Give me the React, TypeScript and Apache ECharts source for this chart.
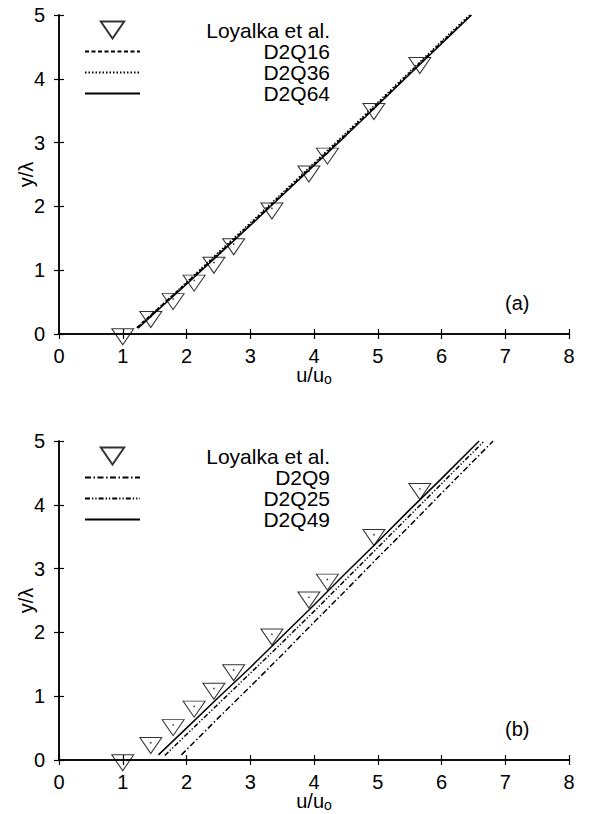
import React, { useEffect, useRef } from 'react';
import * as echarts from 'echarts';

// Loyalka et al. reference points (u/u_o, y/lambda)
const loyalkaU = [1.0, 1.44, 1.79, 2.12, 2.43, 2.74, 3.34, 3.92, 4.21, 4.94, 5.66];
const loyalkaY = [0.0, 0.27, 0.55, 0.84, 1.12, 1.41, 1.97, 2.55, 2.83, 3.53, 4.25];

// Panel (a)
const d2q16U = [1.22, 1.5, 2.0, 2.5, 3.0, 3.5, 4.0, 4.5, 5.0, 5.5, 6.0, 6.46];
const d2q16Y = [0.1, 0.35, 0.8, 1.26, 1.72, 2.19, 2.66, 3.13, 3.61, 4.09, 4.57, 5.0];
const d2q36U = [1.23, 1.5, 2.0, 2.5, 3.0, 3.5, 4.0, 4.5, 5.0, 5.5, 6.0, 6.44];
const d2q36Y = [0.1, 0.35, 0.81, 1.28, 1.74, 2.21, 2.68, 3.15, 3.63, 4.11, 4.59, 5.0];
const d2q64U = [1.24, 1.5, 2.0, 2.5, 3.0, 3.5, 4.0, 4.5, 5.0, 5.5, 6.0, 6.47];
const d2q64Y = [0.09, 0.33, 0.78, 1.24, 1.7, 2.17, 2.64, 3.11, 3.59, 4.07, 4.55, 5.0];

// Panel (b)
const d2q9U = [1.92, 2.5, 3.0, 3.5, 4.0, 4.5, 5.0, 5.5, 6.0, 6.81];
const d2q9Y = [0.08, 0.66, 1.15, 1.65, 2.16, 2.66, 3.17, 3.67, 4.18, 5.0];
const d2q25U = [1.66, 2.0, 2.5, 3.0, 3.5, 4.0, 4.5, 5.0, 5.5, 6.0, 6.67];
const d2q25Y = [0.07, 0.4, 0.88, 1.36, 1.84, 2.33, 2.83, 3.33, 3.83, 4.33, 5.0];
const d2q49U = [1.56, 2.0, 2.5, 3.0, 3.5, 4.0, 4.5, 5.0, 5.5, 6.0, 6.59];
const d2q49Y = [0.08, 0.5, 0.98, 1.45, 1.94, 2.43, 2.93, 3.42, 3.92, 4.41, 5.0];

const legendA = ['Loyalka et al.', 'D2Q16', 'D2Q36', 'D2Q64'];
const legendB = ['Loyalka et al.', 'D2Q9', 'D2Q25', 'D2Q49'];
const panelTags = ['(a)', '(b)'];

const FONT = 'Liberation Sans, Arial, Helvetica, sans-serif';
const zip = (a: number[], b: number[]) => a.map((v, i) => [v, b[i]]);

const TRI = 'path://M0,0L22,0L11,16Z';

export default function App() {
  const ref = useRef<HTMLDivElement>(null);
  useEffect(() => {
    if (!ref.current) return;
    const chart = echarts.init(ref.current, undefined, { renderer: 'svg' });
    const grids = [
      { left: 59, top: 15, width: 510, height: 319, outerBoundsMode: 'none', containLabel: false },
      { left: 59, top: 441, width: 510, height: 319, outerBoundsMode: 'none', containLabel: false },
    ];
    const axisLine = { show: true, lineStyle: { color: '#000', width: 1.5 } };
    const tick = { show: true, inside: true, length: 5, lineStyle: { color: '#000', width: 1.2 } };
    const xAxes: any[] = [];
    const yAxes: any[] = [];
    grids.forEach((_, g) => {
      xAxes.push({
        type: 'value', gridIndex: g, position: 'bottom', min: 0, max: 8, interval: 1,
        axisLine, axisTick: tick, splitLine: { show: false },
        axisLabel: { color: '#000', fontSize: 20, fontFamily: FONT, margin: 12 },
        name: '{m|u/u}{s|o}', nameLocation: 'middle', nameGap: 30, nameMoveOverlap: false,
        nameTextStyle: {
          color: '#000', fontFamily: FONT, fontSize: 20,
          rich: {
            m: { fontSize: 20, fontFamily: FONT, color: '#000' },
            s: { fontSize: 14, fontFamily: FONT, color: '#000', padding: [8, 0, 0, 0] },
          },
        },
      });
      xAxes.push({
        type: 'value', gridIndex: g, position: 'top', min: 0, max: 8, interval: 1,
        axisLine, axisTick: tick, splitLine: { show: false }, axisLabel: { show: false },
      });
      yAxes.push({
        type: 'value', gridIndex: g, position: 'left', min: 0, max: 5, interval: 1,
        axisLine, axisTick: tick, splitLine: { show: false },
        axisLabel: { color: '#000', fontSize: 20, fontFamily: FONT, margin: 14 },
        name: 'y/λ', nameLocation: 'middle', nameGap: 23, nameMoveOverlap: false,
        nameTextStyle: { color: '#000', fontSize: 20, fontFamily: FONT },
      });
      yAxes.push({
        type: 'value', gridIndex: g, position: 'right', min: 0, max: 5, interval: 1,
        axisLine, axisTick: tick, splitLine: { show: false }, axisLabel: { show: false },
      });
    });

    const tri = (g: number) => ({
      type: 'scatter', name: 'Loyalka et al.', xAxisIndex: 2 * g, yAxisIndex: 2 * g,
      symbol: TRI, symbolSize: [22, 16], symbolOffset: [0, 2.7],
      itemStyle: { color: 'none', borderColor: '#000', borderWidth: 1 },
      data: zip(loyalkaU, loyalkaY), z: 2,
    });
    const dots = (g: number) => ({
      type: 'scatter', name: 'pts' + g, xAxisIndex: 2 * g, yAxisIndex: 2 * g,
      symbol: 'circle', symbolSize: 1.6, itemStyle: { color: '#000' },
      data: zip(loyalkaU, loyalkaY), z: 2,
    });
    const line = (g: number, name: string, u: number[], y: number[], dash: any) => ({
      type: 'line', name, xAxisIndex: 2 * g, yAxisIndex: 2 * g,
      symbol: 'none', data: zip(u, y), z: 3,
      lineStyle: { color: '#000', width: 1.5, type: dash },
      itemStyle: { color: 'rgba(0,0,0,0)', borderWidth: 0, opacity: 0 },
    });

    const legend = (g: number, data: string[]) => ({
      orient: 'vertical', left: 84, top: g === 0 ? 19 : 445, padding: 0,
      itemWidth: 55, itemHeight: 17, itemGap: 0, selectedMode: false,
      data,
      formatter: (n: string) => `{t|${n}}`,
      textStyle: {
        color: '#000', fontSize: 21, fontFamily: FONT, lineHeight: 20,
        rich: { t: { width: 185, align: 'right', fontSize: 21, lineHeight: 20, fontFamily: FONT, color: '#000' } },
      },
    });

    chart.setOption({
      animation: false,
      backgroundColor: '#fff',
      grid: grids,
      xAxis: xAxes,
      yAxis: yAxes,
      legend: [legend(0, legendA), legend(1, legendB)],
      series: [
        tri(0), dots(0),
        line(0, 'D2Q16', d2q16U, d2q16Y, [4, 2.5]),
        line(0, 'D2Q36', d2q36U, d2q36Y, [1.5, 2]),
        line(0, 'D2Q64', d2q64U, d2q64Y, 'solid'),
        tri(1), dots(1),
        line(1, 'D2Q9', d2q9U, d2q9Y, [6, 2.5, 1.5, 2.5]),
        line(1, 'D2Q25', d2q25U, d2q25Y, [5, 2, 1.3, 2, 1.3, 2]),
        line(1, 'D2Q49', d2q49U, d2q49Y, 'solid'),
      ],
      graphic: [
        { type: 'text', left: 505, top: 293, style: { text: panelTags[0], fontSize: 20, fontFamily: FONT, fill: '#000' } },
        { type: 'text', left: 505, top: 719, style: { text: panelTags[1], fontSize: 20, fontFamily: FONT, fill: '#000' } },
      ],
    });
    return () => chart.dispose();
  }, []);
  return (
    <div
      ref={ref}
      style={{ position: 'absolute', left: 0, top: 0, width: 596, height: 814, background: '#fff' }}
    />
  );
}
